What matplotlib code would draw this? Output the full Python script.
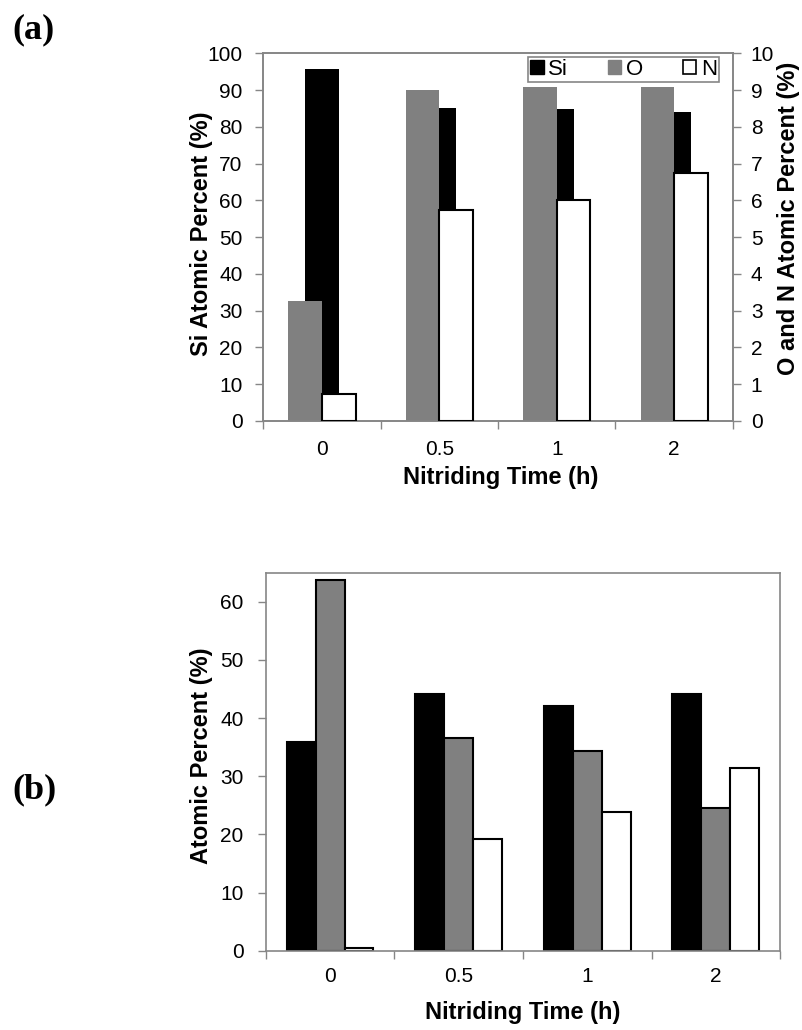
import matplotlib
matplotlib.use("Agg")
import matplotlib.pyplot as plt
import numpy as np
from matplotlib.patches import Patch

plt.rcParams['font.family'] = ['Liberation Sans', 'DejaVu Sans']

categories = ["0", "0.5", "1", "2"]

# Panel (a)
si_a = [95.8, 85.1, 84.8, 84.1]      # left axis
o_a = [3.27, 9.00, 9.08, 9.09]       # right axis
n_a = [0.73, 5.75, 6.00, 6.73]       # right axis

# Panel (b)
si_b = [35.9, 44.2, 42.0, 44.2]
o_b = [63.7, 36.6, 34.3, 24.5]
n_b = [0.5, 19.2, 23.8, 31.4]

GRAY = "#868686"
FILL = "#808080"
FS = 15
LFS = 17

fig = plt.figure(figsize=(8.03, 10.30), dpi=100)

def style_x(ax, n, pad):
    ax.set_xlim(-0.5, n - 0.5)
    ax.set_xticks(np.arange(n + 1) - 0.5)
    ax.set_xticklabels([])
    ax.set_xticks(np.arange(n), minor=True)
    ax.set_xticklabels(categories, minor=True, fontsize=FS)
    ax.tick_params(axis='x', which='major', direction='out', length=6, color=GRAY, width=1)
    ax.tick_params(axis='x', which='minor', length=0, pad=pad)

def style_spines(ax):
    for s in ax.spines.values():
        s.set_color(GRAY)
        s.set_linewidth(1.2)

x = np.arange(len(categories))

# ---------- (a) ----------
axa = fig.add_axes([0.328, 0.5913, 0.5845, 0.357])
wa = 0.286
axa.bar(x, si_a, width=wa, color="black", edgecolor="none", zorder=2)
axa.set_ylim(0, 100)
axa.set_yticks(np.arange(0, 101, 10))
axa.tick_params(axis='y', direction='out', length=6, color=GRAY, width=1, labelsize=FS, pad=9)
style_x(axa, len(categories), 14)
style_spines(axa)
axa.set_ylabel("Si Atomic Percent (%)", fontsize=LFS, fontweight='bold')
axa.yaxis.set_label_coords(-0.131, 0.51)
axa.yaxis.label.set_verticalalignment('center')
axa.set_xlabel("Nitriding Time (h)", fontsize=LFS, fontweight='bold')
axa.xaxis.set_label_coords(0.505, -0.155)
axa.xaxis.label.set_verticalalignment('center')

axa2 = axa.twinx()
axa2.bar(x - wa / 2, o_a, width=wa, color=FILL, edgecolor="none", zorder=2)
axa2.bar(x + wa / 2, n_a, width=wa, color="white", edgecolor="black", linewidth=1.5, zorder=3)
axa2.set_ylim(0, 10)
axa2.set_yticks(np.arange(0, 11, 1))
axa2.tick_params(axis='y', direction='out', length=6, color=GRAY, width=1, labelsize=FS, pad=7)
style_spines(axa2)
axa2.set_ylabel("O and N Atomic Percent (%)", fontsize=LFS, fontweight='bold', rotation=90)
axa2.yaxis.set_label_coords(1.118, 0.55)
axa2.yaxis.label.set_verticalalignment('center')

handles = [Patch(facecolor="black", edgecolor="black"),
           Patch(facecolor=FILL, edgecolor=FILL),
           Patch(facecolor="white", edgecolor="black", linewidth=1.2)]
leg = axa2.legend(handles, ["Si", "O", "N"], loc='upper right', bbox_to_anchor=(0.9708, 0.99),
                  ncol=3, fontsize=FS + 1, frameon=True, fancybox=False, framealpha=1,
                  handlelength=0.6, handleheight=0.6, handletextpad=0.2, columnspacing=1.8,
                  borderpad=0.1, borderaxespad=0)
leg.get_frame().set_edgecolor(GRAY)
leg.get_frame().set_linewidth(1.2)

# ---------- (b) ----------
axb = fig.add_axes([0.331, 0.077, 0.6405, 0.367])
wb = 0.225
axb.bar(x - wb, si_b, width=wb, color="black", edgecolor="black", linewidth=1.5, zorder=2)
axb.bar(x, o_b, width=wb, color=FILL, edgecolor="black", linewidth=1.5, zorder=2)
axb.bar(x + wb, n_b, width=wb, color="white", edgecolor="black", linewidth=1.5, zorder=2)
axb.set_ylim(0, 65)
axb.set_yticks(np.arange(0, 61, 10))
axb.tick_params(axis='y', direction='out', length=6, color=GRAY, width=1, labelsize=FS, pad=10)
style_x(axb, len(categories), 12)
style_spines(axb)
axb.set_ylabel("Atomic Percent (%)", fontsize=LFS, fontweight='bold')
axb.yaxis.set_label_coords(-0.1244, 0.515)
axb.yaxis.label.set_verticalalignment('center')
axb.set_xlabel("Nitriding Time (h)", fontsize=LFS, fontweight='bold')
axb.xaxis.set_label_coords(0.5, -0.164)
axb.xaxis.label.set_verticalalignment('center')

fig.text(0.016, 0.971, "(a)", fontsize=26, fontweight='bold', family=['Liberation Serif', 'DejaVu Serif'],
         ha='left', va='center')
fig.text(0.016, 0.233, "(b)", fontsize=26, fontweight='bold', family=['Liberation Serif', 'DejaVu Serif'],
         ha='left', va='center')

fig.savefig("out.png", dpi=100)
